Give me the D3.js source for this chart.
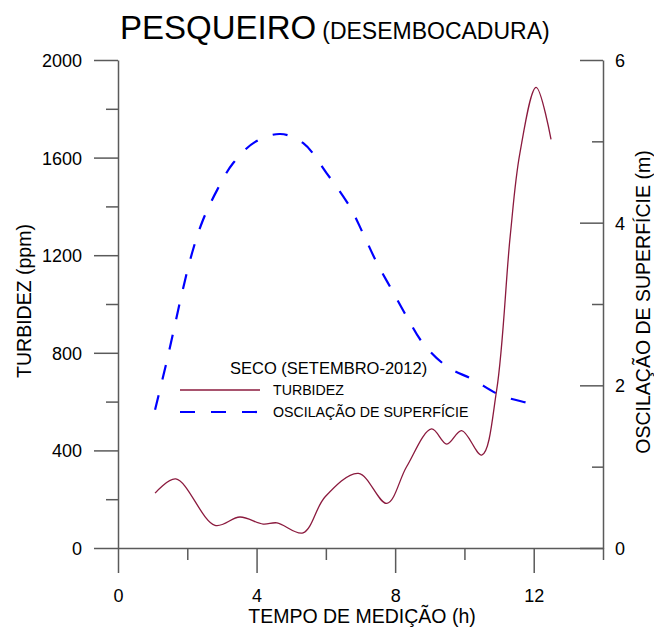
<!DOCTYPE html>
<html>
<head>
<meta charset="utf-8">
<script src="https://cdnjs.cloudflare.com/ajax/libs/d3/7.8.5/d3.min.js"></script>
<style>
	body { margin: 0; background: #fff; }
	svg { font-family: "Liberation Sans", Arial, sans-serif; }
</style>
</head>
<body>
<svg id="chart" width="654" height="627"></svg>
<script>

// turbidez (ppm) x hora
var turbHours = [1.07, 1.67, 2.80, 3.52, 4.19, 4.59, 5.34, 5.98, 6.94, 7.76, 8.33, 9.05, 9.49, 9.92, 10.50, 10.93, 11.32, 11.60, 12.07, 12.50];
var turbValues = [225, 283, 93, 127, 98, 103, 62, 210, 306, 183, 333, 488, 426, 481, 381, 647, 1276, 1617, 1888, 1675];

// oscilacao de superficie (m) x hora
var tideHours = [1.07, 1.36, 1.59, 1.85, 2.14, 2.45, 2.86, 3.32, 3.95, 4.68, 5.34, 6.02, 6.70, 7.07, 7.48, 7.91, 8.34, 8.80, 9.50, 10.25, 11.03, 12.00, 12.18];
var tideValues = [1.70, 2.21, 2.64, 3.14, 3.63, 4.03, 4.40, 4.73, 4.99, 5.09, 4.98, 4.61, 4.19, 3.87, 3.50, 3.17, 2.84, 2.52, 2.23, 2.07, 1.88, 1.76, 1.72];

var xTicks = [0, 2, 4, 6, 8, 10, 12, 14];
var leftTicks = [0, 200, 400, 600, 800, 1000, 1200, 1400, 1600, 1800, 2000];
var rightTicks = [0, 1, 2, 3, 4, 5, 6];

var legendTitle = "SECO (SETEMBRO-2012)";
var seriesNames = ["TURBIDEZ", "OSCILAÇÃO DE SUPERFÍCIE"];

var turbColor = "#8b1a3e";
var tideColor = "#0000ff";
var axisColor = "#5a5a5a";

var svg = d3.select("#chart");

var x = d3.scaleLinear().domain([0, 14]).range([118, 603]);
var yLeft = d3.scaleLinear().domain([0, 2000]).range([548, 60]);
var yRight = d3.scaleLinear().domain([0, 6]).range([548, 60]);

// title
var title = svg.append("text")
	.attr("x", 120)
	.attr("y", 39)
	.attr("fill", "#000");
title.append("tspan").attr("font-size", 33).text("PESQUEIRO");
title.append("tspan").attr("font-size", 23).attr("dx", 6).text("(DESEMBOCADURA)");

// bottom axis
var xAxis = svg.append("g")
	.attr("transform", "translate(0,548)")
	.call(d3.axisBottom(x).tickValues(xTicks).tickSizeOuter(0).tickFormat(function(d){ return d % 4 === 0 ? d : ""; }));

xAxis.selectAll(".tick line")
	.attr("y2", function(d){ return d % 4 === 0 ? 25 : 12; });
xAxis.selectAll(".tick text")
	.attr("y", 54).attr("dy", 0);

// left axis
var lAxis = svg.append("g")
	.attr("transform", "translate(118,0)")
	.call(d3.axisLeft(yLeft).tickValues(leftTicks).tickSizeOuter(0).tickFormat(function(d){ return d % 400 === 0 ? d : ""; }));

lAxis.selectAll(".tick line")
	.attr("x2", function(d){ return d % 400 === 0 ? -24 : -12; });
lAxis.selectAll(".tick text")
	.attr("x", -36).attr("dy", "0.36em");

// right axis, ticks point inward
var rAxis = svg.append("g")
	.attr("transform", "translate(603,0)")
	.call(d3.axisLeft(yRight).tickValues(rightTicks).tickSizeOuter(0).tickFormat(function(d){ return d % 2 === 0 ? d : ""; }));

rAxis.selectAll(".tick line")
	.attr("x2", function(d){ return d % 2 === 0 ? -23 : -11; });
rAxis.selectAll(".tick text")
	.attr("x", 12).attr("dy", "0.36em")
	.attr("text-anchor", "start");

[xAxis, lAxis, rAxis].forEach(function(a){
	a.select(".domain").attr("stroke", axisColor).attr("stroke-width", 1.5);
	a.selectAll(".tick line").attr("stroke", axisColor).attr("stroke-width", 1.5);
	a.selectAll(".tick text")
		.attr("font-family", "Liberation Sans, Arial, sans-serif")
		.attr("font-size", 18)
		.attr("fill", "#000");
});

// axis titles
svg.append("text")
	.attr("transform", "translate(31,301) rotate(-90)")
	.attr("text-anchor", "middle")
	.attr("font-size", 19.5)
	.text("TURBIDEZ (ppm)");

svg.append("text")
	.attr("transform", "translate(650,302) rotate(-90)")
	.attr("text-anchor", "middle")
	.attr("font-size", 19.5)
	.text("OSCILAÇÃO DE SUPERFÍCIE (m)");

svg.append("text")
	.attr("x", 362)
	.attr("y", 623)
	.attr("text-anchor", "middle")
	.attr("font-size", 19.5)
	.text("TEMPO DE MEDIÇÃO (h)");

// lines
var turbData = turbHours.map(function(h, i){ return [h, turbValues[i]]; });
var tideData = tideHours.map(function(h, i){ return [h, tideValues[i]]; });

var turbLine = d3.line()
	.x(function(d){ return x(d[0]); })
	.y(function(d){ return yLeft(d[1]); })
	.curve(d3.curveCatmullRom.alpha(0.5));

var tideLine = d3.line()
	.x(function(d){ return x(d[0]); })
	.y(function(d){ return yRight(d[1]); })
	.curve(d3.curveCatmullRom.alpha(0.5));

svg.append("path")
	.datum(tideData)
	.attr("d", tideLine)
	.attr("fill", "none")
	.attr("stroke", tideColor)
	.attr("stroke-width", 2.2)
	.attr("stroke-dasharray", "15,16");

svg.append("path")
	.datum(turbData)
	.attr("d", turbLine)
	.attr("fill", "none")
	.attr("stroke", turbColor)
	.attr("stroke-width", 1.3);

// legend
var legend = svg.append("g");

legend.append("text")
	.attr("x", 230)
	.attr("y", 374)
	.attr("font-size", 16.5)
	.text(legendTitle);

legend.append("line")
	.attr("x1", 180).attr("x2", 260)
	.attr("y1", 390).attr("y2", 390)
	.attr("stroke", turbColor)
	.attr("stroke-width", 1.3);

legend.append("line")
	.attr("x1", 180).attr("x2", 260)
	.attr("y1", 412).attr("y2", 412)
	.attr("stroke", tideColor)
	.attr("stroke-width", 2.2)
	.attr("stroke-dasharray", "15,16");

legend.selectAll(".lbl")
	.data(seriesNames)
	.enter()
	.append("text")
	.attr("class", "lbl")
	.attr("x", 273)
	.attr("y", function(d, i){ return 395 + i * 22; })
	.attr("font-size", 14.2)
	.text(function(d){ return d; });

</script>
</body>
</html>
